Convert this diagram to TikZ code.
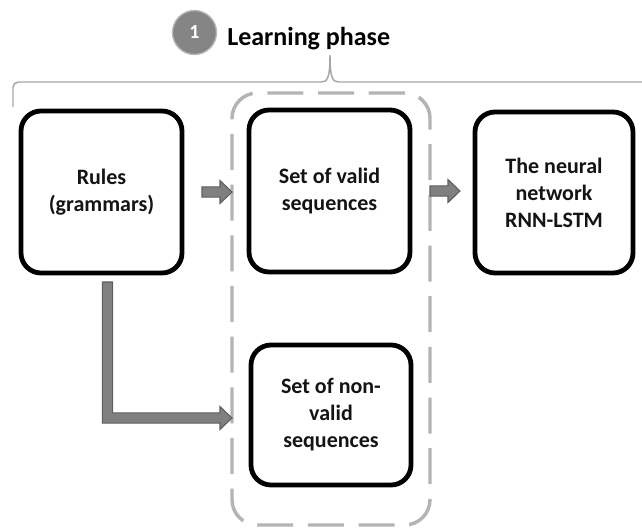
\documentclass[tikz,border=0pt]{standalone}
\usepackage{fontspec}
\setmainfont{Carlito}
\usetikzlibrary{calc}
\definecolor{arrowfill}{HTML}{808080}
\definecolor{arrowedge}{HTML}{5E5E5E}
\definecolor{groupgray}{HTML}{B4B4B4}
\definecolor{bracegray}{HTML}{A6A6A6}
\definecolor{badgegray}{HTML}{858585}
\definecolor{badgeedge}{HTML}{B8B8B8}

% horizontal block arrow: #1 = tail point, #2 = tip (tip taken on the tail's height)
\newcommand\flowarrow[2]{%
  \path[blockarrow] let \p1=(#1), \p2=(#2) in
    (\x1,\y1+3.9pt) -- (\x2-9pt,\y1+3.9pt) -- (\x2-9pt,\y1+8.6pt) -- (\x2,\y1)
    -- (\x2-9pt,\y1-8.6pt) -- (\x2-9pt,\y1-3.9pt) -- (\x1,\y1-3.9pt) -- cycle;}

\begin{document}
\begin{tikzpicture}[x=0.75pt,y=-0.75pt,
  stagebox/.style={draw=black, line width=3.6pt, rounded corners=15pt, fill=white,
    align=center, inner sep=0pt, outer sep=0pt, text=black!92,
    font=\fontsize{16.5}{20.25}\selectfont\bfseries},
  groupbox/.style={draw=groupgray, line width=2.6pt, rounded corners=19pt,
    dash pattern=on 27pt off 11pt, inner sep=0pt, outer sep=0pt},
  blockarrow/.style={fill=arrowfill, draw=arrowedge, line width=0.8pt, line join=miter},
  bracket/.style={draw=bracegray, line width=1.1pt}
]
\useasboundingbox (0,0) rectangle (642,529);

% title
\node[circle, fill=badgegray, draw=badgeedge, line width=1pt, minimum size=33pt,
  inner sep=0pt, text=white, font=\fontsize{15}{18}\selectfont\bfseries] (badge) at (194.5,32.5) {1};
\node[anchor=base west, inner sep=0pt, font=\fontsize{19.5}{24}\selectfont\bfseries] (title) at (227,45) {Learning phase};

% brace under the title
\draw[bracket] (13,107) [rounded corners=4pt] -- (13,82) [sharp corners] -- (321,82)
  .. controls (327,82) and (330,79) .. (330,55)
  .. controls (330,79) and (333,82) .. (339,82) -- (642,82);

% dashed group of the two sequence sets
\node[groupbox, minimum width=148.5pt, minimum height=324pt] (group) at (331,309) {};

% stages
\node[stagebox, minimum width=120.75pt, minimum height=121.5pt] (rules) at (101.5,192) {Rules\\(grammars)};
\node[stagebox, minimum width=120.75pt, minimum height=121.5pt] (valid) at (329.5,191) {Set of valid\\sequences};
\node[stagebox, minimum width=118.5pt, minimum height=120.75pt] (neural) at (554,192.5) {The neural\\network\\RNN-LSTM};
\node[stagebox, minimum width=120pt, minimum height=105pt] (nonvalid) at (331,415) {Set of non-\\valid\\sequences};

% connectors
\coordinate (a1s) at ($(rules.east)+(20,0)$);
\coordinate (a1t) at (group.west |- a1s);
\coordinate (a2s) at (group.east |- valid.east);
\coordinate (a2t) at ($(neural.west)+(-15,0)$);
\coordinate (ls) at ($(rules.south)+(6,9)$);
\coordinate (lt) at ($(group.west |- nonvalid.west)+(0,3)$);

\flowarrow{a1s}{a1t}
\flowarrow{a2s}{a2t}

\path[blockarrow] let \p1=(ls), \p2=(lt) in
  (\x1-3.9pt,\y1) -- (\x1-3.9pt,\y2-3.9pt) -- (\x2-9pt,\y2-3.9pt) -- (\x2-9pt,\y2-8.6pt)
  -- (\x2,\y2) -- (\x2-9pt,\y2+8.6pt) -- (\x2-9pt,\y2+3.9pt) -- (\x1+3.9pt,\y2+3.9pt)
  -- (\x1+3.9pt,\y1) -- cycle;
\end{tikzpicture}
\end{document}
